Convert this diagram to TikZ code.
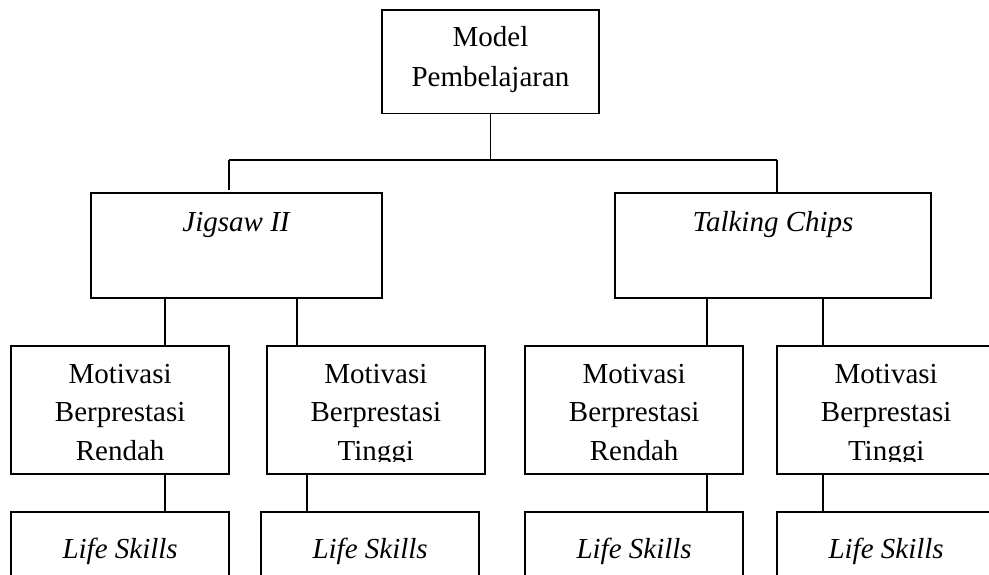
\documentclass[tikz,border=0pt]{standalone}
\usepackage{fontspec}
\setmainfont{Liberation Serif}
\begin{document}
\begin{tikzpicture}[x=1pt,y=-1pt,
  box/.style={draw=black, line width=1.8pt, rectangle, inner sep=0pt, outer sep=0pt},
  txt/.style={inner sep=0pt, outer sep=0pt, anchor=base, align=center, font=\fontsize{29}{38.7}\selectfont},
  conn/.style={draw=black, line width=1.8pt}]
\useasboundingbox (0,0) rectangle (989,574);
\clip (0,0) rectangle (989,574);
\fill[white] (0,0) rectangle (989,574);
% boxes
\node[box, minimum width=217.6pt, minimum height=103.5pt] (model) at (490.5,61.75) {};
\node[box, minimum width=290.7pt, minimum height=104.4pt] (jig) at (236.35,245.5) {};
\node[box, minimum width=316pt, minimum height=104.4pt] (talk) at (773,245.5) {};
\node[box, minimum width=218.3pt, minimum height=128.3pt] (m1) at (120.15,410.15) {};
\node[box, minimum width=218.3pt, minimum height=128.3pt] (m2) at (375.85,410.15) {};
\node[box, minimum width=218.3pt, minimum height=128.3pt] (m3) at (634.15,410.15) {};
\node[box, minimum width=217.7pt, minimum height=128.3pt] (m4) at (886.15,410.15) {};
\node[box, minimum width=218.3pt, minimum height=120pt] (l1) at (120.15,572) {};
\node[box, minimum width=218.3pt, minimum height=120pt] (l2) at (370.15,572) {};
\node[box, minimum width=218.3pt, minimum height=120pt] (l3) at (634.15,572) {};
\node[box, minimum width=217.7pt, minimum height=120pt] (l4) at (886.15,572) {};
% texts
\node[txt] (tmodel) at (490.5,46.7) {Model};
\node[txt] (tmodel2) at (490.5,86) {Pembelajaran};
\node[txt] (tjig) at (236,231) {\itshape Jigsaw II};
\node[txt] (ttalk) at (773,231.5) {\itshape Talking Chips};
\foreach \n/\cx/\w in {m1/120.15/Rendah, m2/375.85/Tinggi, m3/634.15/Rendah, m4/886.15/Tinggi}{
  \begin{scope}
    \clip (\n.north west) rectangle (\n.east |- 0,461.8);
    \node[txt] (\n a) at (\cx,383.3) {Motivasi};
    \node[txt] (\n b) at (\cx,421.7) {Berprestasi};
    \node[txt] (\n c) at (\cx,460.7) {\w};
  \end{scope}
}
\foreach \n/\cx in {l1/120.15, l2/370.15, l3/634.15, l4/886.15}{
  \node[txt] (\n t) at (\cx,558.3) {\itshape Life Skills};
}
% connectors
\coordinate (busL) at (229,160);
\coordinate (busR) at (776.7,160);
\coordinate (busM) at (model.south |- busL);
\draw[conn] (model.south) -- (busM);
\draw[conn] (busL) -- (busR);
\draw[conn, shorten >=3pt] (busL) -- (busL |- jig.north);
\draw[conn, shorten >=1.5pt] (busR) -- (busR |- talk.north);
\coordinate (j1) at (165,0);
\coordinate (j2) at (297,0);
\coordinate (t1) at (707.3,0);
\coordinate (t2) at (823,0);
\draw[conn] (jig.south -| j1) -- (m1.north -| j1);
\draw[conn] (jig.south -| j2) -- (m2.north -| j2);
\draw[conn] (talk.south -| t1) -- (m3.north -| t1);
\draw[conn] (talk.south -| t2) -- (m4.north -| t2);
\coordinate (b1) at (165,0);
\coordinate (b2) at (306.7,0);
\coordinate (b3) at (707.3,0);
\coordinate (b4) at (822.7,0);
\draw[conn] (m1.south -| b1) -- (l1.north -| b1);
\draw[conn] (m2.south -| b2) -- (l2.north -| b2);
\draw[conn] (m3.south -| b3) -- (l3.north -| b3);
\draw[conn] (m4.south -| b4) -- (l4.north -| b4);
\end{tikzpicture}
\end{document}
